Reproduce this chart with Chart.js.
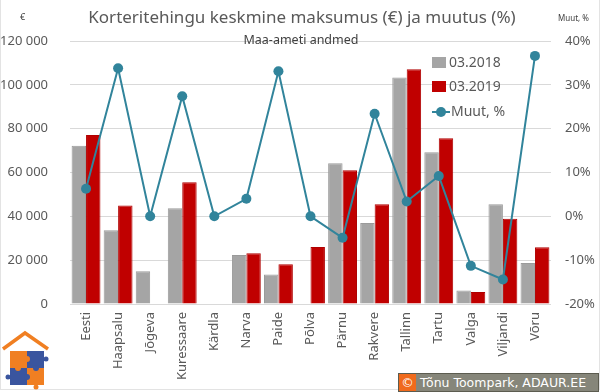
<!DOCTYPE html>
<html>
<head>
<meta charset="utf-8">
<script src="https://cdn.jsdelivr.net/npm/chart.js@4"></script>
<style>
  body { margin: 0; background: #fff; }
  #wrap { position: relative; width: 600px; height: 392px; font-family: "Noto Sans", sans-serif; color: #595959; overflow: hidden; }
  #wrap canvas { position: absolute; left: 0; top: 0; }
  .frame { position: absolute; left: 0; top: 0; width: 598px; height: 389px; border: 1px solid #e3e3e3; border-top: none; }
  .title { position: absolute; left: 0; width: 604px; top: 5px; text-align: center; font-size: 17px; }
  .sub { position: absolute; left: 0; width: 602px; top: 31px; text-align: center; font-size: 12.5px; color: #404040; }
  .unitL { position: absolute; left: 20px; top: 10px; font-size: 9px; color: #404040; }
  .unitR { position: absolute; left: 558px; top: 12px; font-size: 8px; color: #404040; }
  .leg { position: absolute; left: 432px; font-size: 14px; line-height: 16px; }
  .leg i { display: inline-block; width: 14px; height: 11px; margin-right: 3px; vertical-align: -1px; }
  .leg .ln { position: relative; display: inline-block; width: 18px; height: 11px; margin-right: 1px; vertical-align: -1px; }
  .leg .ln:before { content: ""; position: absolute; left: 0; right: 0; top: 5px; height: 2px; background: #31849b; }
  .leg .ln:after { content: ""; position: absolute; left: 4px; top: 1px; width: 10px; height: 10px; border-radius: 50%; background: #31849b; }
  .copy { position: absolute; left: 398px; top: 373px; width: 199px; height: 17px; background: #86867a; border: 1px solid #5c5c50; color: #fff; font-family: "DejaVu Sans", sans-serif; font-size: 12.5px; line-height: 17px; white-space: nowrap; }
  .copy b { display: inline-block; width: 17px; height: 17px; background: #f06a1c; text-align: center; font-weight: normal; margin-right: 4px; }
  .logo { position: absolute; left: 0; top: 330px; }
</style>
</head>
<body>
<div id="wrap">
  <canvas id="chart" width="600" height="392"></canvas>
  <div class="frame"></div>
  <div class="title">Korteritehingu keskmine maksumus (€) ja muutus (%)</div>
  <div class="sub">Maa-ameti andmed</div>
  <div class="unitL">€</div>
  <div class="unitR">Muut, %</div>
  <div class="leg" style="top:54px"><i style="background:#a5a5a5"></i>03.2018</div>
  <div class="leg" style="top:78px"><i style="background:#c00000"></i>03.2019</div>
  <div class="leg" style="top:103px"><span class="ln"></span>Muut, %</div>
  <svg class="logo" width="52" height="60" viewBox="0 0 52 60">
    <polyline points="3,19 25,3 48,19" fill="none" stroke="#f07f22" stroke-width="3.5"/>
    <rect x="10" y="21" width="17" height="17" fill="#f07f22"/>
    <rect x="27" y="21" width="17" height="17" fill="#3a559f"/>
    <rect x="10" y="38" width="17" height="17" fill="#3a559f"/>
    <rect x="27" y="38" width="17" height="17" fill="#f07f22"/>
    <circle cx="27" cy="29" r="3" fill="#f07f22"/>
    <circle cx="18" cy="38" r="3" fill="#f07f22"/>
    <circle cx="36" cy="38" r="3" fill="#3a559f"/>
    <circle cx="27" cy="47" r="3" fill="#3a559f"/>
    <circle cx="8" cy="47" r="2.5" fill="#3a559f"/>
    <circle cx="46" cy="29" r="2.5" fill="#3a559f"/>
    <circle cx="36" cy="57" r="2.5" fill="#f07f22"/>
  </svg>
  <div class="copy"><b>©</b>Tõnu Toompark, ADAUR.EE</div>
</div>
<script>
const cities = ['Eesti', 'Haapsalu', 'Jõgeva', 'Kuressaare', 'Kärdla', 'Narva', 'Paide', 'Põlva', 'Pärnu', 'Rakvere', 'Tallinn', 'Tartu', 'Valga', 'Viljandi', 'Võru'];
const price2018 = [72200, 33600, 14900, 43700, null, 22400, 13500, null, 64200, 37000, 103300, 69200, 6200, 45500, 18700];
const price2019 = [77100, 44900, null, 55500, null, 23100, 18100, 26000, 61000, 45500, 107100, 75600, 5500, 38900, 25900];
const changePct = [6.3, 33.8, 0, 27.4, 0, 4.0, 33.1, 0, -4.9, 23.4, 3.4, 9.2, -11.3, -14.4, 36.6];

const tickFont = { family: 'Noto Sans', size: 13 };
const fmtEur = v => String(v).replace(/\B(?=(\d{3})+(?!\d))/g, ' ');

new Chart(document.getElementById('chart'), {
    type: 'bar',
    data: {
        labels: cities,
        datasets: [
            { type: 'line', label: 'Muut, %', data: changePct, yAxisID: 'y1', order: 0,
              borderColor: '#31849b', backgroundColor: '#31849b', borderWidth: 2,
              pointRadius: 5, pointBackgroundColor: '#31849b', pointBorderWidth: 0, tension: 0 },
            { label: '03.2018', data: price2018, yAxisID: 'y', order: 1, backgroundColor: '#a5a5a5',
              borderColor: '#9a9a9a', borderWidth: 1 },
            { label: '03.2019', data: price2019, yAxisID: 'y', order: 1, backgroundColor: '#c00000',
              borderColor: '#b00000', borderWidth: 1 }
        ]
    },
    options: {
        responsive: false,
        animation: false,
        layout: { padding: { top: 41, bottom: 0, left: 0, right: 0 } },
        datasets: { bar: { categoryPercentage: 0.9, barPercentage: 1 } },
        plugins: { legend: { display: false }, tooltip: { enabled: false } },
        scales: {
            x: {
                grid: { display: false, drawTicks: false }, border: { display: false },
                ticks: { color: '#595959', font: tickFont, maxRotation: 90, minRotation: 90, padding: 8, autoSkip: false },
                afterFit: s => { s.height = 88; }
            },
            y: {
                position: 'left', min: 0, max: 120000,
                grid: { color: '#d9d9d9', drawTicks: false }, border: { display: false },
                ticks: { stepSize: 20000, color: '#595959', font: tickFont, padding: 22, callback: fmtEur },
                afterFit: s => { s.width = 70; }
            },
            y1: {
                position: 'right', min: -20, max: 40,
                grid: { display: false, drawTicks: false }, border: { display: false },
                ticks: { stepSize: 10, color: '#595959', font: tickFont, padding: 14, callback: v => v + '%' },
                afterFit: s => { s.width = 49; }
            }
        }
    }
});
</script>
</body>
</html>
